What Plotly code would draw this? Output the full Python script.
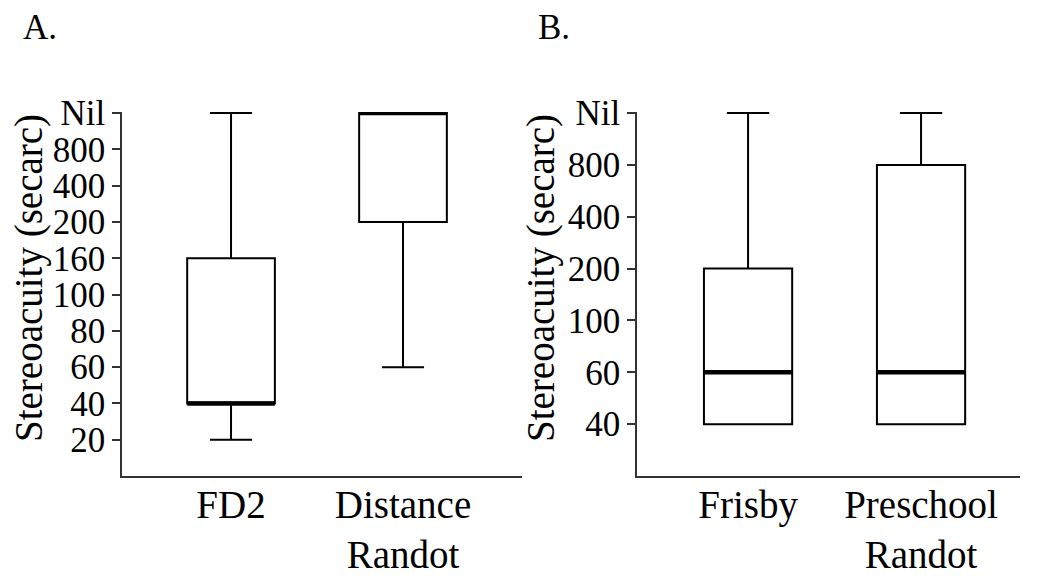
import plotly.graph_objects as go

# ---------------- data ----------------
# ordinal stereoacuity levels (secarc), evenly spaced on the axis
levels_a = ["20", "40", "60", "80", "100", "160", "200", "400", "800", "Nil"]
levels_b = ["40", "60", "100", "200", "400", "800", "Nil"]

tests_a = ["FD2", "Distance<br>Randot"]
lower_a = ["20", "60"]
q1_a = ["40", "200"]
median_a = ["40", "Nil"]
q3_a = ["160", "Nil"]
upper_a = ["Nil", "Nil"]

tests_b = ["Frisby", "Preschool<br>Randot"]
lower_b = ["40", "40"]
q1_b = ["40", "40"]
median_b = ["60", "60"]
q3_b = ["200", "800"]
upper_b = ["Nil", "Nil"]

y_title = "Stereoacuity (secarc)"

# ---------------- style ----------------
FONT = "Liberation Serif"
BOX_W = 0.51
OFF = 8                      # page body margin
W, H = 1050 - OFF, 578 - OFF


def px_x(a, b):
    return [(a - OFF) / W, (b - OFF) / W]


def px_y(top, bottom):
    return [(H - (bottom - OFF)) / H, (H - (top - OFF)) / H]


fig = go.Figure()


def add_panel(levels, tests, lo, q1, med, q3, hi, xa, ya):
    idx = levels.index
    for i, name in enumerate(tests):
        fig.add_trace(go.Box(
            x=[i], q1=[idx(q1[i])], median=[idx(med[i])], q3=[idx(q3[i])],
            lowerfence=[idx(lo[i])], upperfence=[idx(hi[i])],
            width=BOX_W, whiskerwidth=0.48,
            fillcolor="white", line=dict(color="black", width=2),
            boxpoints=False, hoverinfo="skip",
            xaxis=xa, yaxis=ya, showlegend=False,
        ))
        # thick median bar
        m = idx(med[i])
        fig.add_trace(go.Scatter(
            x=[i - BOX_W / 2, i + BOX_W / 2], y=[m, m], mode="lines",
            line=dict(color="black", width=4.5),
            xaxis=xa, yaxis=ya, showlegend=False, hoverinfo="skip",
        ))


add_panel(levels_a, tests_a, lower_a, q1_a, median_a, q3_a, upper_a, "x", "y")
add_panel(levels_b, tests_b, lower_b, q1_b, median_b, q3_b, upper_b, "x2", "y2")

xcommon = dict(showline=True, linecolor="#333", linewidth=1.5, showgrid=False,
               zeroline=False, ticks="", automargin=False, ticklabelstandoff=-7,
               tickfont=dict(family=FONT, size=39, color="black"))
ycommon = dict(showline=True, linecolor="#333", linewidth=1.5, showgrid=False,
               zeroline=False, ticks="outside", ticklen=8, tickcolor="#333", tickwidth=1.5,
               automargin=False, tickfont=dict(family=FONT, size=35, color="black"))


def label(text, x, y, size, angle=0, anchor="left", yanchor="top", yshift=0):
    return dict(text=text, x=(x - OFF) / W, y=1 - (y - OFF) / H, yshift=yshift,
                xref="paper", yref="paper", xanchor=anchor, yanchor=yanchor,
                textangle=angle, showarrow=False,
                font=dict(family=FONT, size=size, color="black"))


fig.update_layout(
    width=W, height=H,
    margin=dict(l=0, r=0, t=0, b=0),
    plot_bgcolor="white", paper_bgcolor="white",
    xaxis=dict(xcommon, domain=px_x(122, 522), range=[-0.634, 1.692],
               tickvals=list(range(len(tests_a))), ticktext=tests_a, anchor="y"),
    yaxis=dict(ycommon, domain=px_y(112, 476), range=[-1, 9.03],
               tickvals=list(range(len(levels_a))), ticktext=levels_a, anchor="x"),
    xaxis2=dict(xcommon, domain=px_x(637, 1020), range=[-0.642, 1.572],
                tickvals=list(range(len(tests_b))), ticktext=tests_b, anchor="y2"),
    yaxis2=dict(ycommon, domain=px_y(112, 476), range=[-1, 6.02],
                tickvals=list(range(len(levels_b))), ticktext=levels_b, anchor="x2"),
    annotations=[
        label("A.", 21, OFF, 35, yshift=2),
        label("B.", 536, OFF, 35, yshift=2),
        label(y_title, 29, 278, 39, angle=-90, anchor="center", yanchor="middle"),
        label(y_title, 541, 278, 39, angle=-90, anchor="center", yanchor="middle"),
    ],
)

fig.write_html("out.html")
